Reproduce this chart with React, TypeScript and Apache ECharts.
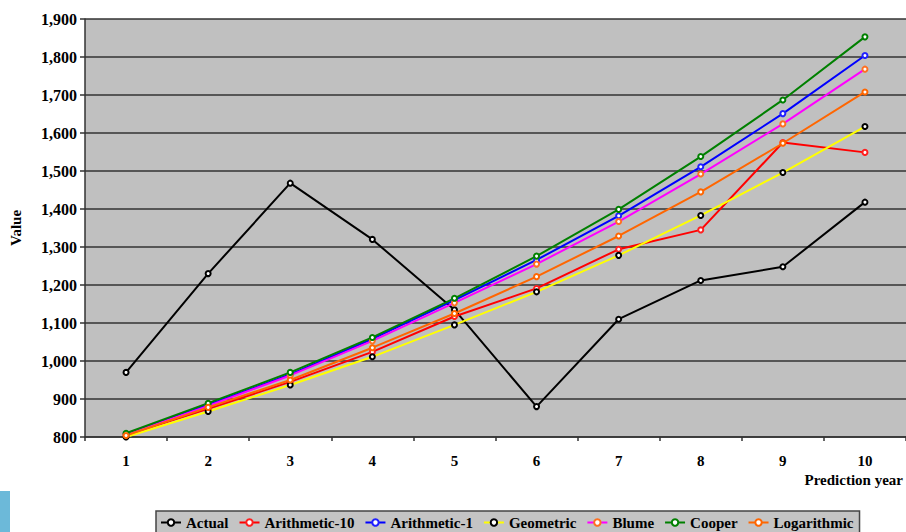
import React, { useEffect, useRef } from "react";
import * as echarts from "echarts";

const years = ["1", "2", "3", "4", "5", "6", "7", "8", "9", "10"];
const yTicks = [800, 900, 1000, 1100, 1200, 1300, 1400, 1500, 1600, 1700, 1800, 1900];

const actual = [970, 1230, 1468, 1320, 1135, 880, 1110, 1212, 1248, 1418];
const arithmetic10 = [805, 874, 945, 1024, 1117, 1191, 1294, 1345, 1575, 1549];
const arithmetic1 = [808, 885, 965, 1058, 1160, 1266, 1382, 1511, 1651, 1804];
const geometric = [800, 867, 937, 1011, 1095, 1182, 1278, 1383, 1496, 1617];
const blume = [806, 882, 962, 1053, 1153, 1255, 1367, 1492, 1624, 1768];
const cooper = [810, 889, 970, 1062, 1165, 1276, 1399, 1538, 1687, 1853];
const logarithmic = [804, 878, 950, 1035, 1125, 1222, 1329, 1445, 1573, 1708];

const seriesDefs = [
  { name: "Actual", data: actual, line: "#000000", marker: "#000000" },
  { name: "Arithmetic-10", data: arithmetic10, line: "#ff0000", marker: "#ff2020" },
  { name: "Arithmetic-1", data: arithmetic1, line: "#0000ff", marker: "#2020ff" },
  { name: "Geometric", data: geometric, line: "#ffff00", marker: "#000000" },
  { name: "Blume", data: blume, line: "#ff00ff", marker: "#ff7020" },
  { name: "Cooper", data: cooper, line: "#008000", marker: "#008000" },
  { name: "Logarithmic", data: logarithmic, line: "#ff6600", marker: "#ff6600" },
];

const FONT = "'Liberation Serif', 'Times New Roman', serif";

const fmt = (v: number) => v.toLocaleString("en-US");

export default function App() {
  const ref = useRef<HTMLDivElement>(null);

  useEffect(() => {
    if (!ref.current) return;
    const chart = echarts.init(ref.current, undefined, { renderer: "svg" });
    chart.setOption({
      animation: false,
      backgroundColor: "#ffffff",
      grid: {
        left: 80,
        right: 0,
        top: 19,
        bottom: 95,
        show: true,
        backgroundColor: "#c0c0c0",
        borderWidth: 0,
      },
      xAxis: {
        type: "category",
        data: years,
        boundaryGap: true,
        axisLine: { show: true, lineStyle: { color: "#333333", width: 1.5 } },
        axisTick: { show: true, inside: false, length: 4, lineStyle: { color: "#333333", width: 1.5 } },
        axisLabel: {
          margin: 16,
          color: "#000000",
          fontFamily: FONT,
          fontWeight: "bold",
          fontSize: 15,
        },
        splitLine: { show: false },
      },
      yAxis: {
        type: "value",
        min: yTicks[0],
        max: yTicks[yTicks.length - 1],
        interval: 100,
        name: "Value",
        nameLocation: "middle",
        nameGap: 62,
        nameRotate: 90,
        nameTextStyle: { color: "#000000", fontFamily: FONT, fontWeight: "bold", fontSize: 15 },
        axisLine: { show: true, lineStyle: { color: "#333333", width: 1.5 } },
        axisTick: { show: true, inside: false, length: 5, lineStyle: { color: "#333333", width: 1.5 } },
        axisLabel: {
          margin: 8,
          color: "#000000",
          fontFamily: FONT,
          fontWeight: "bold",
          fontSize: 16,
          formatter: (v: number) => fmt(v),
        },
        splitLine: { show: true, lineStyle: { color: "#333333", width: 1.5 } },
      },
      legend: {
        left: 156,
        top: 511,
        orient: "horizontal",
        padding: [4, 6, 12, 4],
        itemGap: 10,
        itemWidth: 20,
        itemHeight: 8,
        backgroundColor: "#c4c4c4",
        borderColor: "#444444",
        borderWidth: 1.5,
        textStyle: { color: "#000000", fontFamily: FONT, fontWeight: "bold", fontSize: 15 },
        data: seriesDefs.map((s) => s.name),
      },
      graphic: [
        {
          type: "text",
          right: 3,
          top: 472,
          style: {
            text: "Prediction year",
            fill: "#000000",
            font: `bold 15px ${FONT}`,
          },
        },
        {
          type: "rect",
          left: 0,
          top: 491,
          shape: { width: 10, height: 41 },
          style: { fill: "#6cb9d9" },
        },
      ],
      series: seriesDefs.map((s) => ({
        name: s.name,
        type: "line",
        data: s.data,
        symbol: "emptyCircle",
        symbolSize: 5,
        showSymbol: true,
        lineStyle: { color: s.line, width: 2 },
        itemStyle: { color: s.marker, borderColor: s.marker, borderWidth: 1.2 },
        emphasis: { disabled: true },
      })),
    });
    return () => chart.dispose();
  }, []);

  return (
    <div
      ref={ref}
      style={{ position: "fixed", left: 0, top: 0, width: 906, height: 532 }}
    />
  );
}
